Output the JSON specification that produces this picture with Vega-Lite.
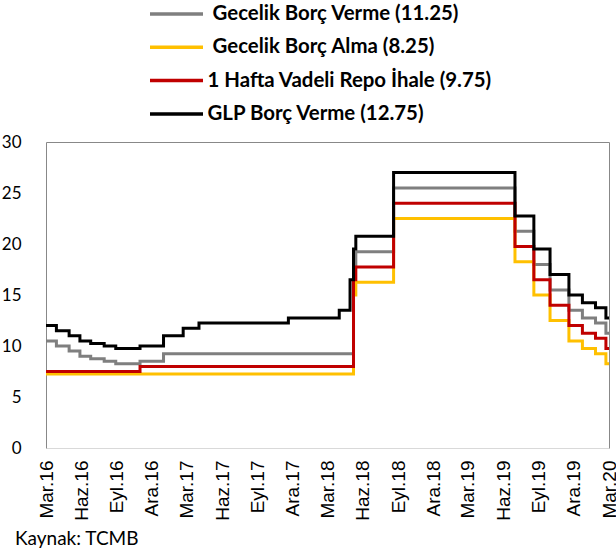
{
  "$schema": "https://vega.github.io/schema/vega-lite/v6.json",
  "width": 563,
  "height": 306,
  "autosize": {"type": "none"},
  "padding": {"left": 46, "top": 142, "right": 7, "bottom": 106},
  "background": "white",
  "config": {"view": {"stroke": "#888888", "strokeWidth": 1}, "font": "Lato"},
  "title": {"text": "Kaynak: TCMB", "orient": "bottom", "anchor": "start", "frame": "group", "font": "Lato", "fontSize": 19, "fontWeight": "normal", "color": "#000000", "dx": -31, "offset": 10},
  "data": {"values": [
    {"d": "2016-03-25", "s": "\u200b\u2005Gecelik Borç Verme (11.25)", "v": 10.5},
    {"d": "2016-04-21", "s": "\u200b\u2005Gecelik Borç Verme (11.25)", "v": 10.0},
    {"d": "2016-05-24", "s": "\u200b\u2005Gecelik Borç Verme (11.25)", "v": 9.5},
    {"d": "2016-06-21", "s": "\u200b\u2005Gecelik Borç Verme (11.25)", "v": 9.0},
    {"d": "2016-07-19", "s": "\u200b\u2005Gecelik Borç Verme (11.25)", "v": 8.75},
    {"d": "2016-08-23", "s": "\u200b\u2005Gecelik Borç Verme (11.25)", "v": 8.5},
    {"d": "2016-09-22", "s": "\u200b\u2005Gecelik Borç Verme (11.25)", "v": 8.25},
    {"d": "2016-11-24", "s": "\u200b\u2005Gecelik Borç Verme (11.25)", "v": 8.5},
    {"d": "2017-01-24", "s": "\u200b\u2005Gecelik Borç Verme (11.25)", "v": 9.25},
    {"d": "2018-06-01", "s": "\u200b\u2005Gecelik Borç Verme (11.25)", "v": 18.0},
    {"d": "2018-06-07", "s": "\u200b\u2005Gecelik Borç Verme (11.25)", "v": 19.25},
    {"d": "2018-09-13", "s": "\u200b\u2005Gecelik Borç Verme (11.25)", "v": 25.5},
    {"d": "2019-07-25", "s": "\u200b\u2005Gecelik Borç Verme (11.25)", "v": 21.25},
    {"d": "2019-09-12", "s": "\u200b\u2005Gecelik Borç Verme (11.25)", "v": 18.0},
    {"d": "2019-10-24", "s": "\u200b\u2005Gecelik Borç Verme (11.25)", "v": 15.5},
    {"d": "2019-12-12", "s": "\u200b\u2005Gecelik Borç Verme (11.25)", "v": 13.5},
    {"d": "2020-01-16", "s": "\u200b\u2005Gecelik Borç Verme (11.25)", "v": 12.75},
    {"d": "2020-02-19", "s": "\u200b\u2005Gecelik Borç Verme (11.25)", "v": 12.25},
    {"d": "2020-03-17", "s": "\u200b\u2005Gecelik Borç Verme (11.25)", "v": 11.25},
    {"d": "2020-03-25", "s": "\u200b\u2005Gecelik Borç Verme (11.25)", "v": 11.25},

    {"d": "2016-03-25", "s": "\u200b\u2005Gecelik Borç Alma (8.25)", "v": 7.25},
    {"d": "2018-06-01", "s": "\u200b\u2005Gecelik Borç Alma (8.25)", "v": 15.0},
    {"d": "2018-06-07", "s": "\u200b\u2005Gecelik Borç Alma (8.25)", "v": 16.25},
    {"d": "2018-09-13", "s": "\u200b\u2005Gecelik Borç Alma (8.25)", "v": 22.5},
    {"d": "2019-07-25", "s": "\u200b\u2005Gecelik Borç Alma (8.25)", "v": 18.25},
    {"d": "2019-09-12", "s": "\u200b\u2005Gecelik Borç Alma (8.25)", "v": 15.0},
    {"d": "2019-10-24", "s": "\u200b\u2005Gecelik Borç Alma (8.25)", "v": 12.5},
    {"d": "2019-12-12", "s": "\u200b\u2005Gecelik Borç Alma (8.25)", "v": 10.5},
    {"d": "2020-01-16", "s": "\u200b\u2005Gecelik Borç Alma (8.25)", "v": 9.75},
    {"d": "2020-02-19", "s": "\u200b\u2005Gecelik Borç Alma (8.25)", "v": 9.25},
    {"d": "2020-03-17", "s": "\u200b\u2005Gecelik Borç Alma (8.25)", "v": 8.25},
    {"d": "2020-03-25", "s": "\u200b\u2005Gecelik Borç Alma (8.25)", "v": 8.25},

    {"d": "2016-03-25", "s": "1 Hafta Vadeli Repo İhale (9.75)", "v": 7.5},
    {"d": "2016-11-24", "s": "1 Hafta Vadeli Repo İhale (9.75)", "v": 8.0},
    {"d": "2018-06-01", "s": "1 Hafta Vadeli Repo İhale (9.75)", "v": 16.5},
    {"d": "2018-06-07", "s": "1 Hafta Vadeli Repo İhale (9.75)", "v": 17.75},
    {"d": "2018-09-13", "s": "1 Hafta Vadeli Repo İhale (9.75)", "v": 24.0},
    {"d": "2019-07-25", "s": "1 Hafta Vadeli Repo İhale (9.75)", "v": 19.75},
    {"d": "2019-09-12", "s": "1 Hafta Vadeli Repo İhale (9.75)", "v": 16.5},
    {"d": "2019-10-24", "s": "1 Hafta Vadeli Repo İhale (9.75)", "v": 14.0},
    {"d": "2019-12-12", "s": "1 Hafta Vadeli Repo İhale (9.75)", "v": 12.0},
    {"d": "2020-01-16", "s": "1 Hafta Vadeli Repo İhale (9.75)", "v": 11.25},
    {"d": "2020-02-19", "s": "1 Hafta Vadeli Repo İhale (9.75)", "v": 10.75},
    {"d": "2020-03-17", "s": "1 Hafta Vadeli Repo İhale (9.75)", "v": 9.75},
    {"d": "2020-03-25", "s": "1 Hafta Vadeli Repo İhale (9.75)", "v": 9.75},

    {"d": "2016-03-25", "s": "GLP Borç Verme (12.75)", "v": 12.0},
    {"d": "2016-04-21", "s": "GLP Borç Verme (12.75)", "v": 11.5},
    {"d": "2016-05-24", "s": "GLP Borç Verme (12.75)", "v": 11.0},
    {"d": "2016-06-21", "s": "GLP Borç Verme (12.75)", "v": 10.5},
    {"d": "2016-07-19", "s": "GLP Borç Verme (12.75)", "v": 10.25},
    {"d": "2016-08-23", "s": "GLP Borç Verme (12.75)", "v": 10.0},
    {"d": "2016-09-22", "s": "GLP Borç Verme (12.75)", "v": 9.75},
    {"d": "2016-11-24", "s": "GLP Borç Verme (12.75)", "v": 10.0},
    {"d": "2017-01-24", "s": "GLP Borç Verme (12.75)", "v": 11.0},
    {"d": "2017-03-16", "s": "GLP Borç Verme (12.75)", "v": 11.75},
    {"d": "2017-04-26", "s": "GLP Borç Verme (12.75)", "v": 12.25},
    {"d": "2017-12-14", "s": "GLP Borç Verme (12.75)", "v": 12.75},
    {"d": "2018-04-25", "s": "GLP Borç Verme (12.75)", "v": 13.5},
    {"d": "2018-05-23", "s": "GLP Borç Verme (12.75)", "v": 16.5},
    {"d": "2018-06-01", "s": "GLP Borç Verme (12.75)", "v": 19.5},
    {"d": "2018-06-07", "s": "GLP Borç Verme (12.75)", "v": 20.75},
    {"d": "2018-09-13", "s": "GLP Borç Verme (12.75)", "v": 27.0},
    {"d": "2019-07-25", "s": "GLP Borç Verme (12.75)", "v": 22.75},
    {"d": "2019-09-12", "s": "GLP Borç Verme (12.75)", "v": 19.5},
    {"d": "2019-10-24", "s": "GLP Borç Verme (12.75)", "v": 17.0},
    {"d": "2019-12-12", "s": "GLP Borç Verme (12.75)", "v": 15.0},
    {"d": "2020-01-16", "s": "GLP Borç Verme (12.75)", "v": 14.25},
    {"d": "2020-02-19", "s": "GLP Borç Verme (12.75)", "v": 13.75},
    {"d": "2020-03-17", "s": "GLP Borç Verme (12.75)", "v": 12.75},
    {"d": "2020-03-25", "s": "GLP Borç Verme (12.75)", "v": 12.75}
  ]},
  "mark": {"type": "line", "interpolate": "step-after", "strokeWidth": 3},
  "encoding": {
    "x": {
      "field": "d", "type": "temporal",
      "scale": {"type": "utc", "domain": [{"year": 2016, "month": 3, "date": 25, "utc": true}, {"year": 2020, "month": 3, "date": 25, "utc": true}]},
      "axis": {
        "title": null, "grid": false, "ticks": false, "labelAngle": -90, "labelFont": "Liberation Sans", "labelFontSize": 19, "labelColor": "#000000",
        "labelPadding": 12, "domainColor": "#d9d9d9", "domainWidth": 1, "labelOverlap": false, "labelFlush": false, "labelBound": false,
        "values": [
          {"year": 2016, "month": 3, "date": 25, "utc": true}, {"year": 2016, "month": 6, "date": 25, "utc": true},
          {"year": 2016, "month": 9, "date": 25, "utc": true}, {"year": 2016, "month": 12, "date": 25, "utc": true},
          {"year": 2017, "month": 3, "date": 25, "utc": true}, {"year": 2017, "month": 6, "date": 25, "utc": true},
          {"year": 2017, "month": 9, "date": 25, "utc": true}, {"year": 2017, "month": 12, "date": 25, "utc": true},
          {"year": 2018, "month": 3, "date": 25, "utc": true}, {"year": 2018, "month": 6, "date": 25, "utc": true},
          {"year": 2018, "month": 9, "date": 25, "utc": true}, {"year": 2018, "month": 12, "date": 25, "utc": true},
          {"year": 2019, "month": 3, "date": 25, "utc": true}, {"year": 2019, "month": 6, "date": 25, "utc": true},
          {"year": 2019, "month": 9, "date": 25, "utc": true}, {"year": 2019, "month": 12, "date": 25, "utc": true},
          {"year": 2020, "month": 3, "date": 25, "utc": true}
        ],
        "labelExpr": "['Oca','Şub','Mar','Nis','May','Haz','Tem','Ağu','Eyl','Eki','Kas','Ara'][utcmonth(datum.value)] + '.' + utcFormat(datum.value, '%y')"
      }
    },
    "y": {
      "field": "v", "type": "quantitative",
      "scale": {"domain": [0, 30], "nice": false},
      "axis": {"title": null, "grid": false, "ticks": false, "domain": false, "values": [0, 5, 10, 15, 20, 25, 30], "labelFont": "Lato", "labelFontSize": 17, "labelColor": "#000000", "labelPadding": 25, "labelOverlap": false}
    },
    "color": {
      "field": "s", "type": "nominal",
      "scale": {"domain": ["\u200b\u2005Gecelik Borç Verme (11.25)", "\u200b\u2005Gecelik Borç Alma (8.25)", "1 Hafta Vadeli Repo İhale (9.75)", "GLP Borç Verme (12.75)"], "range": ["#7f7f7f", "#ffc000", "#c00000", "#000000"]},
      "legend": {
        "title": null, "orient": "none", "legendX": 104, "legendY": -140, "direction": "vertical",
        "symbolType": "M-2.65,0L2.65,0", "symbolSize": 400, "symbolStrokeWidth": 3.5, "symbolOffset": 14.5,
        "labelOffset": 19, "labelFont": "Lato", "labelFontSize": 20.4, "labelFontWeight": "bold", "labelColor": "#000000",
        "rowPadding": 10.3, "padding": 0, "labelLimit": 500
      }
    }
  }
}
